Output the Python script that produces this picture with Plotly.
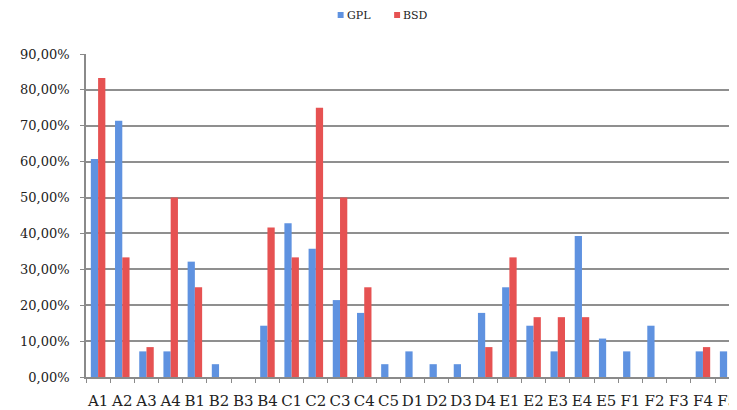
import plotly.graph_objects as go

categories = ["A1","A2","A3","A4","B1","B2","B3","B4","C1","C2","C3","C4","C5",
              "D1","D2","D3","D4","E1","E2","E3","E4","E5","F1","F2","F3","F4","F5"]
gpl = [0.6071,0.7143,0.0714,0.0714,0.3214,0.0357,0.0,0.1429,0.4286,0.3571,0.2143,0.1786,0.0357,
       0.0714,0.0357,0.0357,0.1786,0.25,0.1429,0.0714,0.3929,0.1071,0.0714,0.1429,0.0,0.0714,0.0714]
bsd = [0.8333,0.3333,0.0833,0.50,0.25,0.0,0.0,0.4167,0.3333,0.75,0.50,0.25,0.0,
       0.0,0.0,0.0,0.0833,0.3333,0.1667,0.1667,0.1667,0.0,0.0,0.0,0.0,0.0833,0.0]
series_names = ["GPL", "BSD"]
yticks = [0,0.1,0.2,0.3,0.4,0.5,0.6,0.7,0.8,0.9]

font_family = "DejaVu Serif"
colors = ["#5f92e0", "#e65252"]

# page offset of 8px (default body margin) is compensated in the figure size / margins
W, H = 729, 402
ML, MT, MR, MB = 78, 46, 0, 33
PW, PH = W - ML - MR, H - MT - MB

def px(xp):  # figure pixel x -> paper
    return (xp - ML) / PW

def py(yp):  # figure pixel y -> paper
    return (H - MB - yp) / PH

fig = go.Figure()
fig.add_trace(go.Bar(x=categories, y=gpl, name=series_names[0], marker=dict(color=colors[0], line=dict(width=0))))
fig.add_trace(go.Bar(x=categories, y=bsd, name=series_names[1], marker=dict(color=colors[1], line=dict(width=0))))

# compact legend drawn as shapes + text (page px minus 8 offset)
legend_items = [(332, 339), (389, 396)]  # (square left, text left) in figure px
shapes, annotations = [], []
for (sq, tx), name, col in zip(legend_items, series_names, colors):
    shapes.append(dict(type="rect", xref="paper", yref="paper",
                       x0=px(sq), x1=px(sq + 6), y0=py(10), y1=py(4),
                       fillcolor=col, line=dict(width=0)))
    annotations.append(dict(text=name, xref="paper", yref="paper", x=px(tx), y=py(8),
                            xanchor="left", yanchor="middle", showarrow=False,
                            font=dict(family=font_family, size=11, color="#222222")))

fig.update_layout(
    width=W, height=H,
    margin=dict(l=ML, r=MR, t=MT, b=MB, pad=0),
    plot_bgcolor="white", paper_bgcolor="white",
    barmode="group", bargap=0.4, bargroupgap=0,
    separators=",.",
    showlegend=False,
    shapes=shapes, annotations=annotations,
    font=dict(family=font_family, color="#222222"),
    xaxis=dict(type="category", range=[-0.5, 26.16], showgrid=False,
               showline=True, linecolor="#8a8a8a", linewidth=1.5,
               ticks="outside", tickson="boundaries", ticklen=4, tickcolor="#8a8a8a",
               ticklabelstandoff=9,
               tickfont=dict(family=font_family, size=15, color="#222222"), tickangle=0),
    yaxis=dict(range=[0, 0.9], tickvals=yticks, tickformat=".2%",
               showgrid=True, gridcolor="#8f8f8f", gridwidth=1.5,
               showline=True, linecolor="#8a8a8a", linewidth=1.5,
               ticks="outside", ticklen=4, tickcolor="#8a8a8a",
               ticklabelstandoff=8,
               tickfont=dict(family=font_family, size=13, color="#222222"),
               zeroline=False),
)

fig.write_html("out.html")
